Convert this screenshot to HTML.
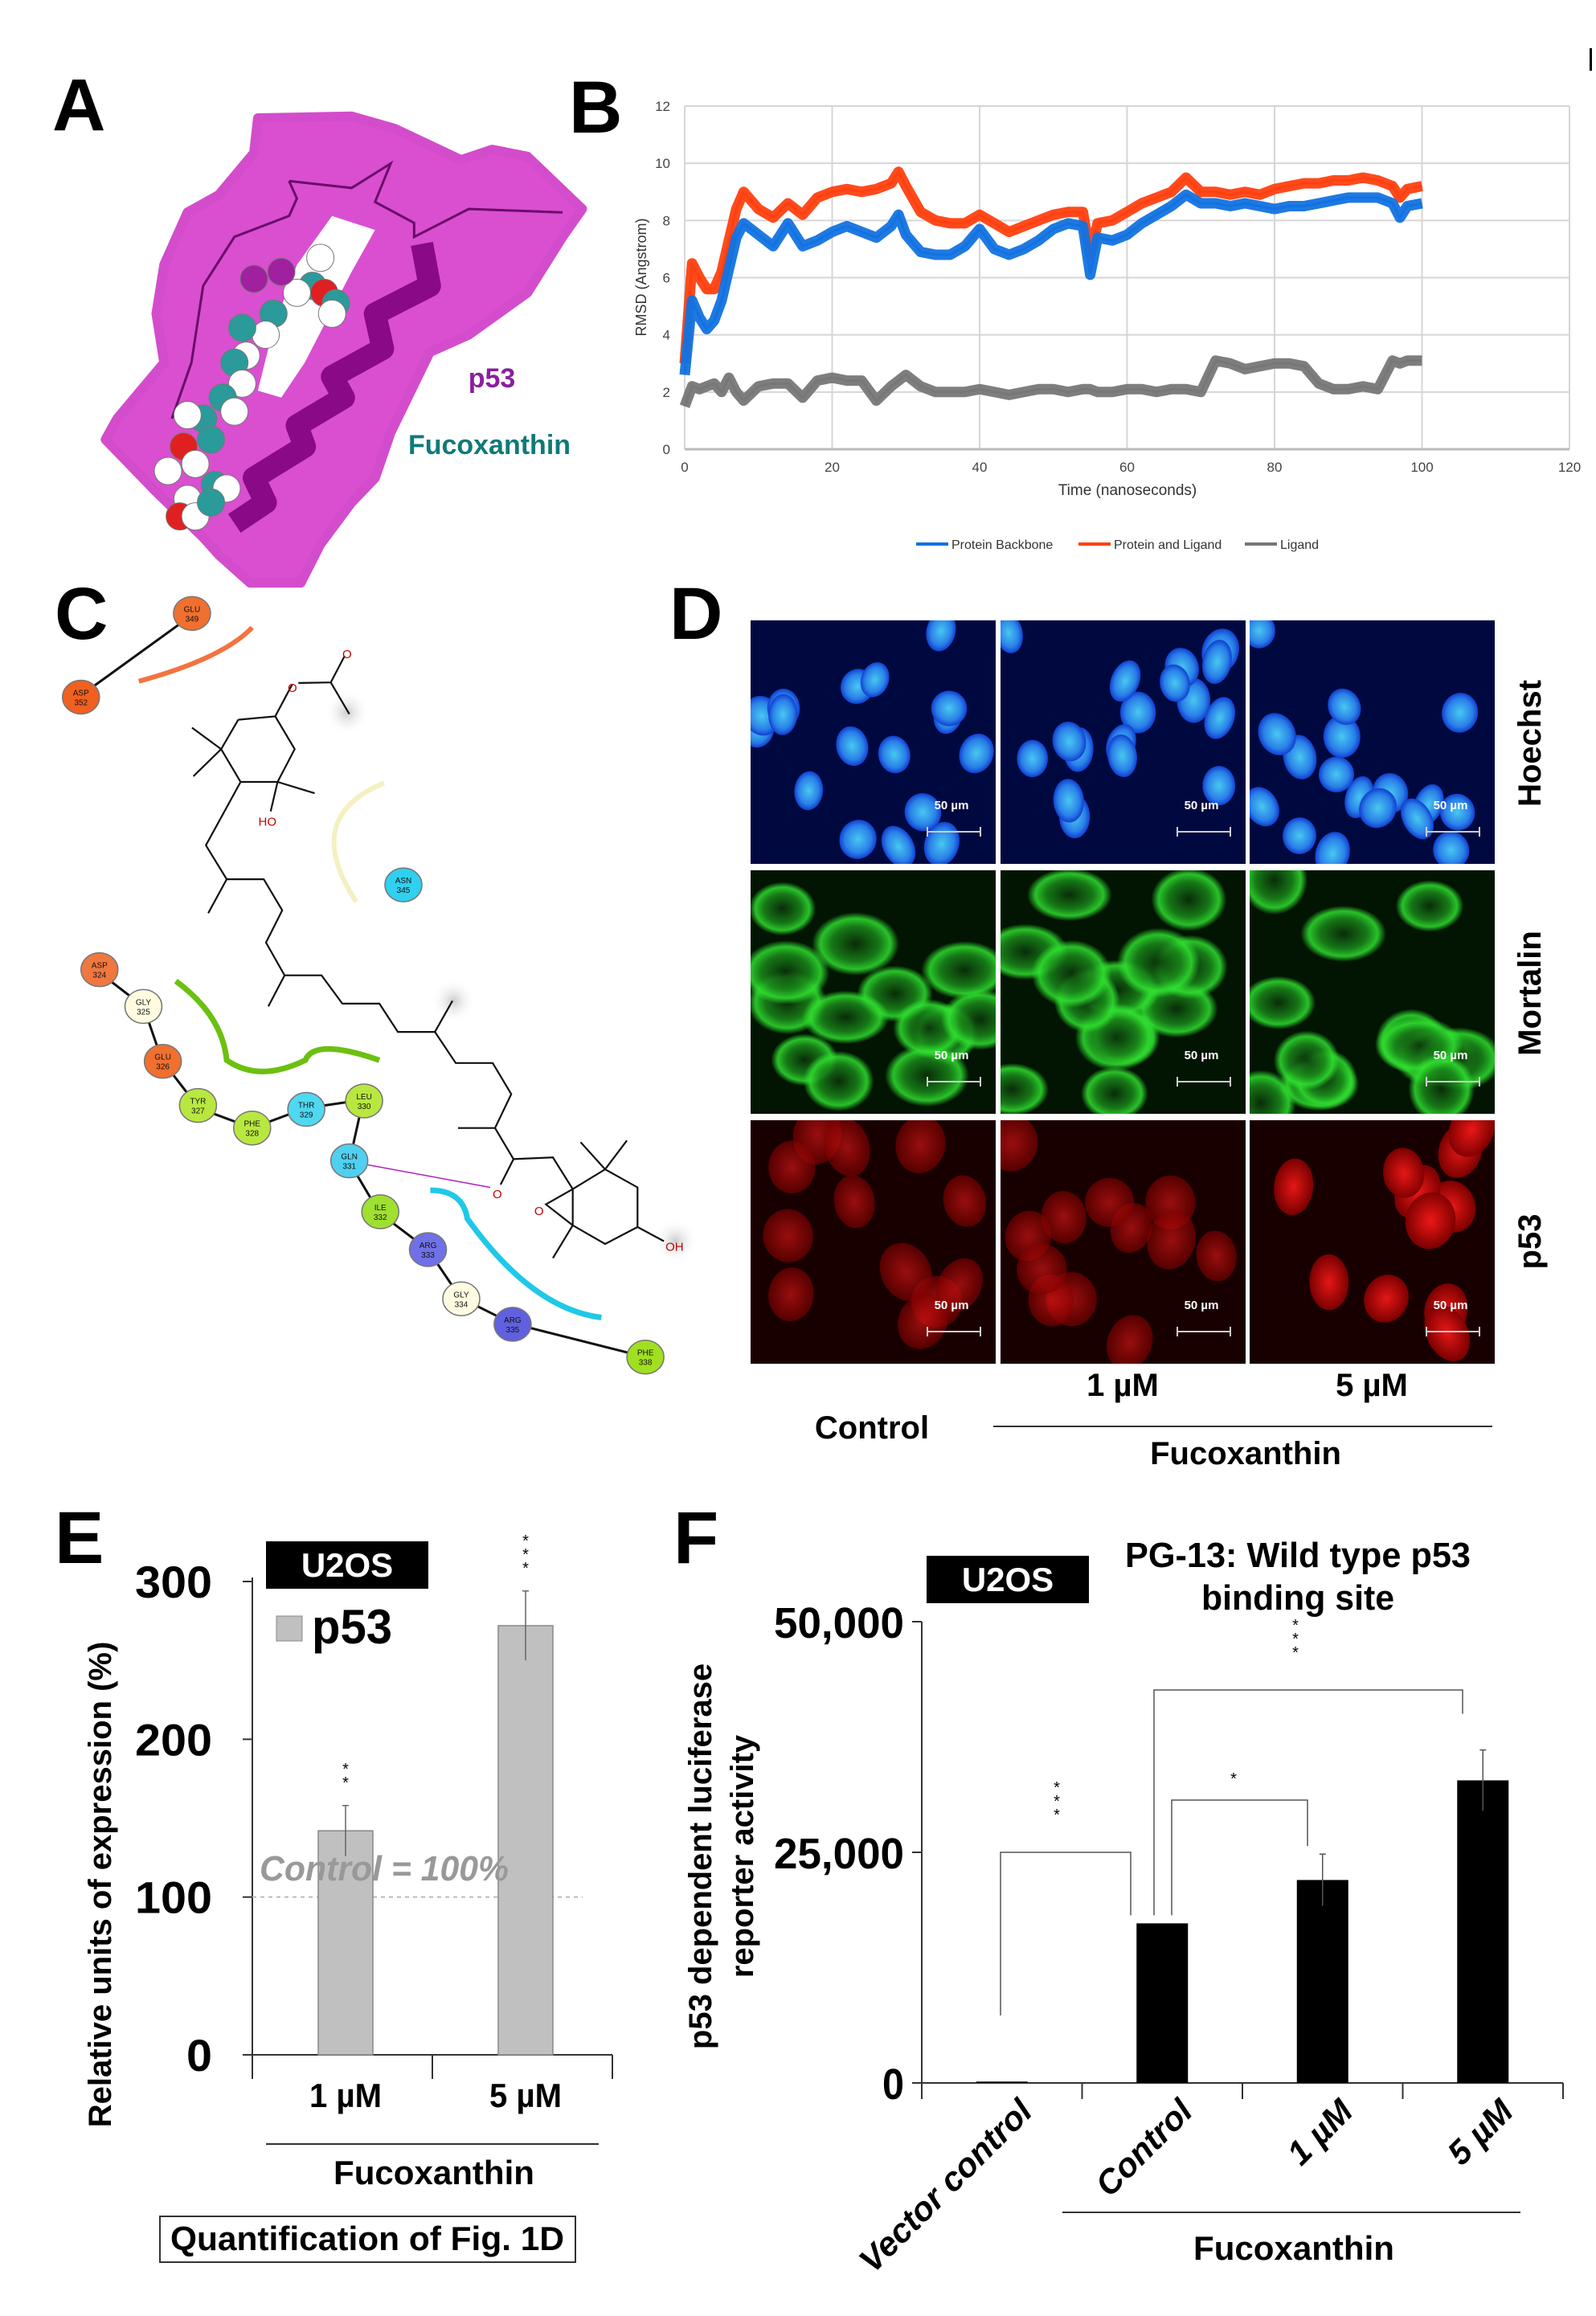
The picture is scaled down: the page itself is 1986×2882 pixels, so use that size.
<!DOCTYPE html>
<html><head><meta charset="utf-8"><style>
html,body{margin:0;padding:0;background:#fff}
svg{display:block}
text{font-family:"Liberation Sans",sans-serif}
</style></head><body>
<svg id="fig" xmlns="http://www.w3.org/2000/svg" width="1986" height="2882" viewBox="0 0 1986 2882">
<defs>
<radialGradient id="gb"><stop offset="0" stop-color="#48c8f0"/><stop offset="0.7" stop-color="#2a80e8"/><stop offset="1" stop-color="#1040d0"/></radialGradient>
<radialGradient id="gr"><stop offset="0" stop-color="#f01818"/><stop offset="1" stop-color="#800000"/></radialGradient>
<radialGradient id="gg"><stop offset="0" stop-color="#0a300a"/><stop offset="0.55" stop-color="#1a8a1a"/><stop offset="0.8" stop-color="#30e030"/><stop offset="1" stop-color="#30e030" stop-opacity="0"/></radialGradient>
<radialGradient id="sh"><stop offset="0" stop-color="#ccc"/><stop offset="1" stop-color="#fff" stop-opacity="0"/></radialGradient>
</defs>
<text x="65" y="162" font-size="92" font-weight="bold">A</text>
<text x="708" y="165" font-size="92" font-weight="bold">B</text>
<text x="68" y="795" font-size="92" font-weight="bold">C</text>
<text x="833" y="795" font-size="92" font-weight="bold">D</text>
<text x="68" y="1945" font-size="92" font-weight="bold">E</text>
<text x="838" y="1945" font-size="92" font-weight="bold">F</text>
<rect x="1978" y="60" width="3" height="28" fill="#000"/>

<g id="pa"></g>
<text x="612" y="482" font-size="34" font-weight="bold" fill="#8a1f9e" text-anchor="middle">p53</text>
<text x="609" y="565" font-size="34" font-weight="bold" fill="#0e7a78" text-anchor="middle">Fucoxanthin</text>

<g id="pb"></g>
<g id="pc"></g>
<g id="pd"></g>
<g id="pe"></g>
<g id="pf"></g>
</svg>
<script>
// ---------- Panel B data ----------
const bTime=[0,1,2,3,4,5,6,7,8,10,12,14,16,18,20,22,24,26,28,29,30,32,34,36,38,40,42,44,46,48,50,52,54,55,56,58,60,62,64,66,68,70,72,74,76,78,80,82,84,86,88,90,92,94,96,97,98,100];
const bBackbone=[2.6,5.2,4.6,4.2,4.5,5.2,6.3,7.4,7.9,7.5,7.1,7.9,7.1,7.3,7.6,7.8,7.6,7.4,7.8,8.2,7.5,6.9,6.8,6.8,7.1,7.7,7.0,6.8,7.0,7.3,7.7,7.9,7.8,6.1,7.4,7.3,7.5,7.9,8.2,8.5,8.9,8.6,8.6,8.5,8.6,8.5,8.4,8.5,8.5,8.6,8.7,8.8,8.8,8.8,8.6,8.1,8.5,8.6];
const bComplex=[3.0,6.5,6.0,5.6,5.6,6.2,7.3,8.4,9.0,8.4,8.1,8.6,8.2,8.8,9.0,9.1,9.0,9.1,9.3,9.7,9.2,8.3,8.0,7.9,7.9,8.2,7.9,7.6,7.8,8.0,8.2,8.3,8.3,6.8,7.9,8.0,8.3,8.6,8.8,9.0,9.5,9.0,9.0,8.9,9.0,8.9,9.1,9.2,9.3,9.3,9.4,9.4,9.5,9.4,9.2,8.8,9.1,9.2];
const bLigand=[1.5,2.2,2.1,2.2,2.3,2.0,2.5,2.0,1.7,2.2,2.3,2.3,1.8,2.4,2.5,2.4,2.4,1.7,2.2,2.4,2.6,2.2,2.0,2.0,2.0,2.1,2.0,1.9,2.0,2.1,2.1,2.0,2.1,2.1,2.0,2.0,2.1,2.1,2.0,2.1,2.1,2.0,3.1,3.0,2.8,2.9,3.0,3.0,2.9,2.3,2.1,2.1,2.2,2.1,3.1,3.0,3.1,3.1];
const bXTicks=[0,20,40,60,80,100,120];
const bYTicks=[0,2,4,6,8,10,12];

// ---------- Panel E data ----------
const eCats=["1 µM","5 µM"];
const eVals=[142,272];
const eErr=[16,22];
const eYTicks=[0,100,200,300];

// ---------- Panel F data ----------
const fCats=["Vector control","Control","1 µM","5 µM"];
const fVals=[150,17300,22000,32800];
const fErr=[0,0,2800,3300];
const fYTicks=[0,25000,50000];
const fYTickLabels=["0","25,000","50,000"];

const NS="http://www.w3.org/2000/svg";
function mk(parent,tag,attrs,txt){const e=document.createElementNS(NS,tag);for(const k in attrs)e.setAttribute(k,attrs[k]);if(txt!==undefined)e.textContent=txt;parent.appendChild(e);return e;}

// ---------- Panel A ----------
(function(){
const g=document.getElementById('pa');
const A=(x,y)=>[x/2.057,y/2.3+60];
const outline=[[660,200],[900,195],[1010,230],[1180,320],[1260,290],[1350,310],[1490,460],[1440,540],[1350,700],[1200,820],[1100,870],[1000,1100],[960,1230],[900,1300],[820,1420],[770,1530],[640,1530],[560,1450],[520,1400],[400,1270],[270,1120],[300,1060],[420,900],[400,760],[420,620],[480,470],[560,420],[650,300]];
const d='M'+outline.map(p=>A(p[0],p[1]).map(v=>v.toFixed(1)).join(',')).join(' L')+'Z';
const s=mk(g,'path',{d:d,fill:'#d94fd0',stroke:'#d34ccc','stroke-width':12,'stroke-linejoin':'round'});


const hole=[[850,480],[960,520],[900,640],[780,900],[720,1000],[660,980],[700,800],[760,620]];
mk(g,'path',{d:'M'+hole.map(p=>A(p[0],p[1]).join(',')).join(' L')+'Z',fill:'#fff'});
const helix=[[1080,560],[1100,680],[960,760],[980,860],[850,940],[880,1000],[760,1080],[780,1140],[650,1230],[680,1300],[600,1360]];
mk(g,'path',{d:'M'+helix.map(p=>A(p[0],p[1]).join(',')).join(' L'),fill:'none',stroke:'#8a0a86','stroke-width':28,'stroke-linejoin':'round'});
const coil=[[740,380],[760,430],[740,480],[600,540],[520,680],[490,900],[440,1060]];
mk(g,'path',{d:'M'+coil.map(p=>A(p[0],p[1]).join(',')).join(' L'),fill:'none',stroke:'#6a0a6a','stroke-width':3});
const coil2=[[740,380],[900,400],[1000,330],[960,440],[1060,500],[1060,540],[1200,460],[1440,470]];
mk(g,'path',{d:'M'+coil2.map(p=>A(p[0],p[1]).join(',')).join(' L'),fill:'none',stroke:'#6a0a6a','stroke-width':3});
const atoms=[[820,600,'#fff'],[800,680,'#2a9a9a'],[760,700,'#fff'],[830,700,'#e02020'],[860,730,'#2a9a9a'],[850,760,'#fff'],[700,760,'#2a9a9a'],[680,820,'#fff'],[620,800,'#2a9a9a'],[630,880,'#fff'],[600,900,'#2a9a9a'],[620,960,'#fff'],[570,1000,'#2a9a9a'],[600,1040,'#fff'],[520,1060,'#2a9a9a'],[480,1050,'#fff'],[540,1120,'#2a9a9a'],[470,1140,'#e02020'],[430,1210,'#fff'],[500,1190,'#fff'],[550,1250,'#2a9a9a'],[480,1290,'#fff'],[580,1260,'#fff'],[460,1340,'#e02020'],[500,1340,'#fff'],[540,1300,'#2a9a9a'],[720,640,'#a020a0'],[650,660,'#a020a0']];
atoms.forEach(a=>{const p=A(a[0],a[1]);mk(g,'circle',{cx:p[0],cy:p[1],r:17,fill:a[2],stroke:'#777','stroke-width':1});});
})();

// ---------- Panel B ----------
(function(){
const g=document.getElementById('pb');
const X0=852,X1=1953,Y0=559,Y1=132;
const xs=t=>X0+(t-0)/(120-0)*(X1-X0);
const ys=v=>Y0-(v-0)/(12-0)*(Y0-Y1);
bYTicks.forEach(v=>{const l=mk(g,'line',{x1:X0,x2:X1,y1:ys(v),y2:ys(v),stroke:'#d6d6d6','stroke-width':2});

const t=mk(g,'text',{x:X0-18,y:ys(v)+6,'font-size':17,fill:'#444','text-anchor':'end'},String(v));
});
bXTicks.forEach(v=>{const l=mk(g,'line',{x1:xs(v),x2:xs(v),y1:Y1,y2:Y0,stroke:'#d6d6d6','stroke-width':2});

const t=mk(g,'text',{x:xs(v),y:Y0+28,'font-size':17,fill:'#444','text-anchor':'middle'},String(v));
});
mk(g,'line',{x1:X0,x2:X1,y1:Y0,y2:Y0,stroke:'#bbb','stroke-width':3});
function series(vals,color,name){
 const pts=bTime.map((t,i)=>xs(t).toFixed(1)+','+ys(vals[i]).toFixed(1)).join(' ');
 const p=mk(g,'polyline',{points:pts,fill:'none',stroke:color,'stroke-width':13,'stroke-linejoin':'round',opacity:0.95});
 
 mk(g,'polyline',{points:pts,fill:'none',stroke:color,'stroke-width':3});
}
series(bLigand,'#777777','ligand-line');
series(bComplex,'#ff4010','protein-ligand-line');
series(bBackbone,'#1272e0','protein-backbone-line');
const yt=mk(g,'text',{x:0,y:0,'font-size':18,fill:'#333','text-anchor':'middle',transform:'translate(804,345) rotate(-90)'},'RMSD (Angstrom)');

const xt=mk(g,'text',{x:1403,y:616,'font-size':19,fill:'#333','text-anchor':'middle'},'Time (nanoseconds)');

const leg=[['Protein Backbone','#1272e0',1140],['Protein and Ligand','#ff4010',1342],['Ligand','#777777',1549]];
leg.forEach(l=>{const gg=mk(g,'g',{});
mk(gg,'line',{x1:l[2],x2:l[2]+40,y1:677,y2:677,stroke:l[1],'stroke-width':4});
mk(gg,'text',{x:l[2]+44,y:683,'font-size':16,fill:'#333'},l[0]);});
})();

// ---------- Panel C ----------
(function(){
const g=document.getElementById('pc');
const C=(x,y)=>[x/1.737,y/1.421+700];
const P=arr=>'M'+arr.map(p=>C(p[0],p[1]).map(v=>v.toFixed(1)).join(',')).join(' L');
mk(g,'path',{d:'M'+C(300,210)+' Q'+C(480,170)+' '+C(545,115),fill:'none',stroke:'#f05010','stroke-width':6,opacity:0.8});
mk(g,'path',{d:'M'+C(830,390)+' Q'+C(650,450)+' '+C(770,600),fill:'none',stroke:'#f4f0c0','stroke-width':6});
mk(g,'path',{d:'M'+C(380,740)+' Q'+C(480,800)+' '+C(490,880)+' Q'+C(560,920)+' '+C(660,880)+' Q'+C(680,840)+' '+C(820,880),fill:'none',stroke:'#6cc010','stroke-width':7});
mk(g,'path',{d:'M'+C(930,1110)+' Q'+C(1000,1110)+' '+C(1010,1160)+' Q'+C(1150,1320)+' '+C(1300,1335),fill:'none',stroke:'#20c8e8','stroke-width':7});
[[750,265],[980,775],[1460,1200]].forEach(p=>{const c=C(p[0],p[1]);mk(g,'circle',{cx:c[0],cy:c[1],r:28,fill:'url(#sh)'});});
const bonds=[
[[515,278],[595,272],[637,330],[600,388],[520,388],[478,330],[515,278]],
[[595,272],[632,215]],[[645,213],[715,212],[745,165]],[[715,212],[755,268]],
[[478,330],[415,292]],[[478,330],[418,378]],[[600,388],[680,408]],[[600,388],[585,440]],
[[520,388],[445,500],[490,560],[570,560],[610,615],[575,672],[615,730],[695,730],[740,780],[820,780],[860,830],[940,830],[985,885],[1065,885],[1105,940],[1070,1000],[1110,1055],[1195,1052],[1238,1108]],
[[490,560],[450,620]],[[615,730],[580,785]],[[940,830],[978,775]],[[1070,1000],[990,1000]],[[1110,1055],[1082,1100]],
[[1238,1108],[1308,1073],[1378,1105],[1378,1175],[1308,1205],[1238,1172],[1238,1108]],
[[1308,1073],[1255,1025]],[[1308,1073],[1355,1022]],[[1238,1108],[1180,1135],[1238,1172]],[[1238,1172],[1195,1230]],[[1378,1175],[1435,1200]]];
bonds.forEach(b=>mk(g,'path',{d:P(b),fill:'none',stroke:'#111','stroke-width':2.2}));
[['O',750,162],['O',632,222],['HO',578,458],['O',1075,1117],['O',1165,1147],['OH',1458,1210]].forEach(t=>{const c=C(t[1],t[2]);mk(g,'text',{x:c[0],y:c[1]+5,'font-size':15,fill:'#c00000','text-anchor':'middle'},t[0]);});
mk(g,'path',{d:P([[795,1065],[1060,1105]]),stroke:'#b020c0','stroke-width':1.5,fill:'none'});
const chain=[[215,725],[310,785],[350,880],[430,965],[545,1000],[660,965],[785,950],[755,1060],[820,1150],[925,1215],[995,1300],[1105,1345],[1395,1405]];
mk(g,'path',{d:P(chain),fill:'none',stroke:'#111','stroke-width':3});
mk(g,'path',{d:P([[175,235],[420,90]]),fill:'none',stroke:'#111','stroke-width':3});
const res=[['GLU','349',415,90,'#f07030'],['ASP','352',175,238,'#f06020'],['ASN','345',872,570,'#30d0f0'],['ASP','324',215,720,'#f07840'],['GLY','325',310,785,'#fffbe0'],['GLU','326',352,882,'#f07030'],['TYR','327',428,960,'#b8e840'],['PHE','328',545,1000,'#b8e840'],['THR','329',662,967,'#50d8f0'],['LEU','330',787,952,'#b8e840'],['GLN','331',755,1058,'#50d0f0'],['ILE','332',822,1148,'#a0e030'],['ARG','333',925,1215,'#7070e8'],['GLY','334',997,1302,'#fffbe0'],['ARG','335',1108,1347,'#6060e0'],['PHE','338',1395,1405,'#a0e020']];
res.forEach(r=>{const c=C(r[2],r[3]);const gg=mk(g,'g',{});


mk(gg,'ellipse',{cx:c[0],cy:c[1],rx:23,ry:21,fill:r[4],stroke:'#777','stroke-width':1.5});
mk(gg,'text',{x:c[0],y:c[1]-2,'font-size':10,'text-anchor':'middle',fill:'#111'},r[0]);
mk(gg,'text',{x:c[0],y:c[1]+10,'font-size':10,'text-anchor':'middle',fill:'#111'},r[1]);});
})();

// ---------- Panel D ----------
(function(){
const g=document.getElementById('pd');
const xs=[934,1245,1555],ys=[772,1083,1394],w=305,h=303;
let seed=11;const rnd=()=>{seed=(seed*16807)%2147483647;return seed/2147483647;};
const rows=[['#000840','url(#gb)','hoechst'],['#021402','url(#gg)','mortalin'],['#180000','url(#gr)','p53']];
rows.forEach((r,ri)=>xs.forEach((x,ci)=>{
 const cell=mk(g,'g',{});
 mk(cell,'rect',{x:x,y:ys[ri],width:w,height:h,fill:r[0]});
 const cp='clip'+ri+ci;const cl=mk(cell,'clipPath',{id:cp});mk(cl,'rect',{x:x,y:ys[ri],width:w,height:h});
 const inner=mk(cell,'g',{'clip-path':'url(#'+cp+')'});
 const n=ri===1?13:(ri===0?17:12);
 for(let i=0;i<n;i++){const cx=x+10+rnd()*(w-20),cy=ys[ri]+10+rnd()*(h-20);
  if(ri===1){mk(inner,'ellipse',{cx:cx,cy:cy,rx:40+rnd()*15,ry:32+rnd()*12,fill:r[1],opacity:0.85});}
  else if(ri===0){mk(inner,'ellipse',{cx:cx,cy:cy,rx:17+rnd()*6,ry:22+rnd()*6,fill:r[1],transform:'rotate('+(rnd()*60-30)+' '+cx+' '+cy+')'});}
  else{mk(inner,'ellipse',{cx:cx,cy:cy,rx:24+rnd()*8,ry:30+rnd()*8,fill:r[1],opacity:ci===2?0.95:0.6,transform:'rotate('+(rnd()*60-30)+' '+cx+' '+cy+')'});}
 }
 mk(cell,'text',{x:x+w-55,y:ys[ri]+h-68,'font-size':15,'font-weight':'bold',fill:'#fff','text-anchor':'middle'},'50 µm');
 mk(cell,'path',{d:`M${x+w-85} ${ys[ri]+h-40}h66M${x+w-85} ${ys[ri]+h-46}v12M${x+w-19} ${ys[ri]+h-46}v12`,stroke:'#ccc','stroke-width':2,fill:'none'});
}));
[['Hoechst',925],['Mortalin',1236],['p53',1545]].forEach(l=>{const t=mk(g,'text',{x:0,y:0,'font-size':40,'font-weight':'bold','text-anchor':'middle',transform:`translate(1917,${l[1]}) rotate(-90)`},l[0]);
});
const t1=mk(g,'text',{x:1085,y:1790,'font-size':40,'font-weight':'bold','text-anchor':'middle'},'Control');
const t2=mk(g,'text',{x:1397,y:1737,'font-size':40,'font-weight':'bold','text-anchor':'middle'},'1 µM');
const t3=mk(g,'text',{x:1707,y:1737,'font-size':40,'font-weight':'bold','text-anchor':'middle'},'5 µM');
mk(g,'line',{x1:1236,x2:1857,y1:1775,y2:1775,stroke:'#333','stroke-width':2});
const t4=mk(g,'text',{x:1550,y:1822,'font-size':40,'font-weight':'bold','text-anchor':'middle'},'Fucoxanthin');
})();

// ---------- Panel E ----------
(function(){
const g=document.getElementById('pe');
const X0=314,Y0=2557,Y1=1968;
const ys=v=>Y0-v/300*(Y0-Y1);
const slotW=(762-X0)/eCats.length;
const xc=i=>X0+slotW*(i+0.5)+4;
mk(g,'line',{x1:X0,x2:X0,y1:Y1-5,y2:Y0+30,stroke:'#333','stroke-width':2});
mk(g,'line',{x1:X0,x2:762,y1:Y0,y2:Y0,stroke:'#333','stroke-width':2});
[X0+slotW,762].forEach(x=>mk(g,'line',{x1:x,x2:x,y1:Y0,y2:Y0+30,stroke:'#333','stroke-width':2}));
eYTicks.forEach(v=>{mk(g,'line',{x1:X0-12,x2:X0,y1:ys(v),y2:ys(v),stroke:'#333','stroke-width':2});
const s=String(v);
const t=mk(g,'text',{x:X0-50,y:ys(v)+20,'font-size':56,'font-weight':'bold','text-anchor':'end',textLength:s.length*32,lengthAdjust:'spacingAndGlyphs'},s);
});
mk(g,'line',{x1:X0,x2:725,y1:ys(100),y2:ys(100),stroke:'#bbb','stroke-width':2,'stroke-dasharray':'5 5'});
eCats.forEach((c,i)=>{const bw=68;const x=xc(i)-bw/2;
 const b=mk(g,'rect',{x:x,y:ys(eVals[i]),width:bw,height:Y0-ys(eVals[i]),fill:'#c0c0c0',stroke:'#888','stroke-width':1.5});
 
 mk(g,'path',{d:`M${xc(i)} ${ys(eVals[i]+eErr[i])}V${ys(eVals[i]-eErr[i])}M${xc(i)-4} ${ys(eVals[i]+eErr[i])}h8`,stroke:'#666','stroke-width':1.5,fill:'none'});
 const stars=i===0?2:3;
 for(let k=0;k<stars;k++)mk(g,'text',{x:xc(i),y:ys(eVals[i]+eErr[i])-22-k*17,'font-size':20,'text-anchor':'middle'},'*');
 const t=mk(g,'text',{x:xc(i),y:2622,'font-size':42,'font-weight':'bold','text-anchor':'middle',textLength:90,lengthAdjust:'spacingAndGlyphs'},c);
 });
const ctl=mk(g,'text',{x:478,y:2340,'font-size':44,'font-weight':'bold','font-style':'italic',fill:'#999','text-anchor':'middle',textLength:310,lengthAdjust:'spacingAndGlyphs'},'Control = 100%');

const yt=mk(g,'text',{x:0,y:0,'font-size':40,'font-weight':'bold','text-anchor':'middle',transform:'translate(138,2345) rotate(-90)'},'Relative units of expression (%)');

const bx=mk(g,'rect',{x:331,y:1918,width:202,height:59,fill:'#000'});
mk(g,'text',{x:432,y:1962,'font-size':42,'font-weight':'bold',fill:'#fff','text-anchor':'middle'},'U2OS');
const lg=mk(g,'g',{});
mk(lg,'rect',{x:344,y:2011,width:32,height:31,fill:'#c0c0c0',stroke:'#888'});
mk(lg,'text',{x:388,y:2045,'font-size':60,'font-weight':'bold',textLength:100,lengthAdjust:'spacingAndGlyphs'},'p53');
mk(g,'line',{x1:331,x2:745,y1:2668,y2:2668,stroke:'#333','stroke-width':2});
mk(g,'text',{x:540,y:2718,'font-size':42,'font-weight':'bold','text-anchor':'middle',textLength:250,lengthAdjust:'spacingAndGlyphs'},'Fucoxanthin');
const qb=mk(g,'rect',{x:199,y:2758,width:517,height:57,fill:'none',stroke:'#333','stroke-width':2});

mk(g,'text',{x:457,y:2800,'font-size':42,'font-weight':'bold','text-anchor':'middle',textLength:490,lengthAdjust:'spacingAndGlyphs'},'Quantification of Fig. 1D');
})();

// ---------- Panel F ----------
(function(){
const g=document.getElementById('pf');
const X0=1147,X1=1945,Y0=2592,Y1=2018;
const ys=v=>Y0-v/50000*(Y0-Y1);
const slotW=(X1-X0)/fCats.length;
const xc=i=>X0+slotW*(i+0.5);
mk(g,'line',{x1:X0,x2:X0,y1:Y1,y2:Y0+20,stroke:'#333','stroke-width':2});
mk(g,'line',{x1:X0,x2:X1,y1:Y0,y2:Y0,stroke:'#333','stroke-width':2});
for(let i=1;i<=fCats.length;i++)mk(g,'line',{x1:X0+slotW*i,x2:X0+slotW*i,y1:Y0,y2:Y0+20,stroke:'#333','stroke-width':2});
fYTicks.forEach((v,i)=>{mk(g,'line',{x1:X0-12,x2:X0,y1:ys(v),y2:ys(v),stroke:'#333','stroke-width':2});
const s=fYTickLabels[i];
const t=mk(g,'text',{x:X0-22,y:ys(v)+20,'font-size':54,'font-weight':'bold','text-anchor':'end',textLength:s.length*27,lengthAdjust:'spacingAndGlyphs'},s);
});
fCats.forEach((c,i)=>{const bw=64;const x=xc(i)-bw/2;
 const b=mk(g,'rect',{x:x,y:ys(fVals[i]),width:bw,height:Y0-ys(fVals[i]),fill:'#000'});
 
 if(fErr[i]>0)mk(g,'path',{d:`M${xc(i)} ${ys(fVals[i]+fErr[i])}V${ys(fVals[i]-fErr[i])}M${xc(i)-4} ${ys(fVals[i]+fErr[i])}h8`,stroke:'#555','stroke-width':1.5,fill:'none'});
 const t=mk(g,'text',{x:0,y:0,'font-size':42,'font-weight':'bold','font-style':'italic','text-anchor':'end',transform:`translate(${xc(i)+40},${2630}) rotate(-45)`},c);
 });
const br=(a,b,ya,yb,top,stars,sx)=>{mk(g,'path',{d:`M${a} ${ya}V${top}H${b}V${yb}`,fill:'none',stroke:'#555','stroke-width':1.5});
 for(let k=0;k<stars;k++)mk(g,'text',{x:sx,y:top-40-k*17+(stars===1?20:0),'font-size':20,'text-anchor':'middle'},'*');};
br(1245,1407,2508,ys(fVals[1])-10,2305,3,1315);
br(1458,1627,ys(fVals[1])-10,ys(fVals[2]+fErr[2])-10,2240,1,1535);
br(1436,1820,ys(fVals[1])-10,ys(fVals[3]+fErr[3])-45,2103,3,1612);
const bx=mk(g,'rect',{x:1153,y:1936,width:202,height:59,fill:'#000'});
mk(g,'text',{x:1254,y:1980,'font-size':42,'font-weight':'bold',fill:'#fff','text-anchor':'middle'},'U2OS');
const tt=mk(g,'text',{x:1615,y:1950,'font-size':44,'font-weight':'bold','text-anchor':'middle',textLength:430,lengthAdjust:'spacingAndGlyphs'},'PG-13: Wild type p53');

mk(g,'text',{x:1615,y:2003,'font-size':44,'font-weight':'bold','text-anchor':'middle',textLength:240,lengthAdjust:'spacingAndGlyphs'},'binding site');
const y1=mk(g,'text',{x:0,y:0,'font-size':40,'font-weight':'bold','text-anchor':'middle',transform:'translate(885,2310) rotate(-90)'},'p53 dependent  luciferase');

mk(g,'text',{x:0,y:0,'font-size':40,'font-weight':'bold','text-anchor':'middle',transform:'translate(937,2310) rotate(-90)'},'reporter activity');
mk(g,'line',{x1:1322,x2:1892,y1:2753,y2:2753,stroke:'#333','stroke-width':2});
mk(g,'text',{x:1610,y:2812,'font-size':42,'font-weight':'bold','text-anchor':'middle',textLength:250,lengthAdjust:'spacingAndGlyphs'},'Fucoxanthin');
})();
</script>
</body></html>
